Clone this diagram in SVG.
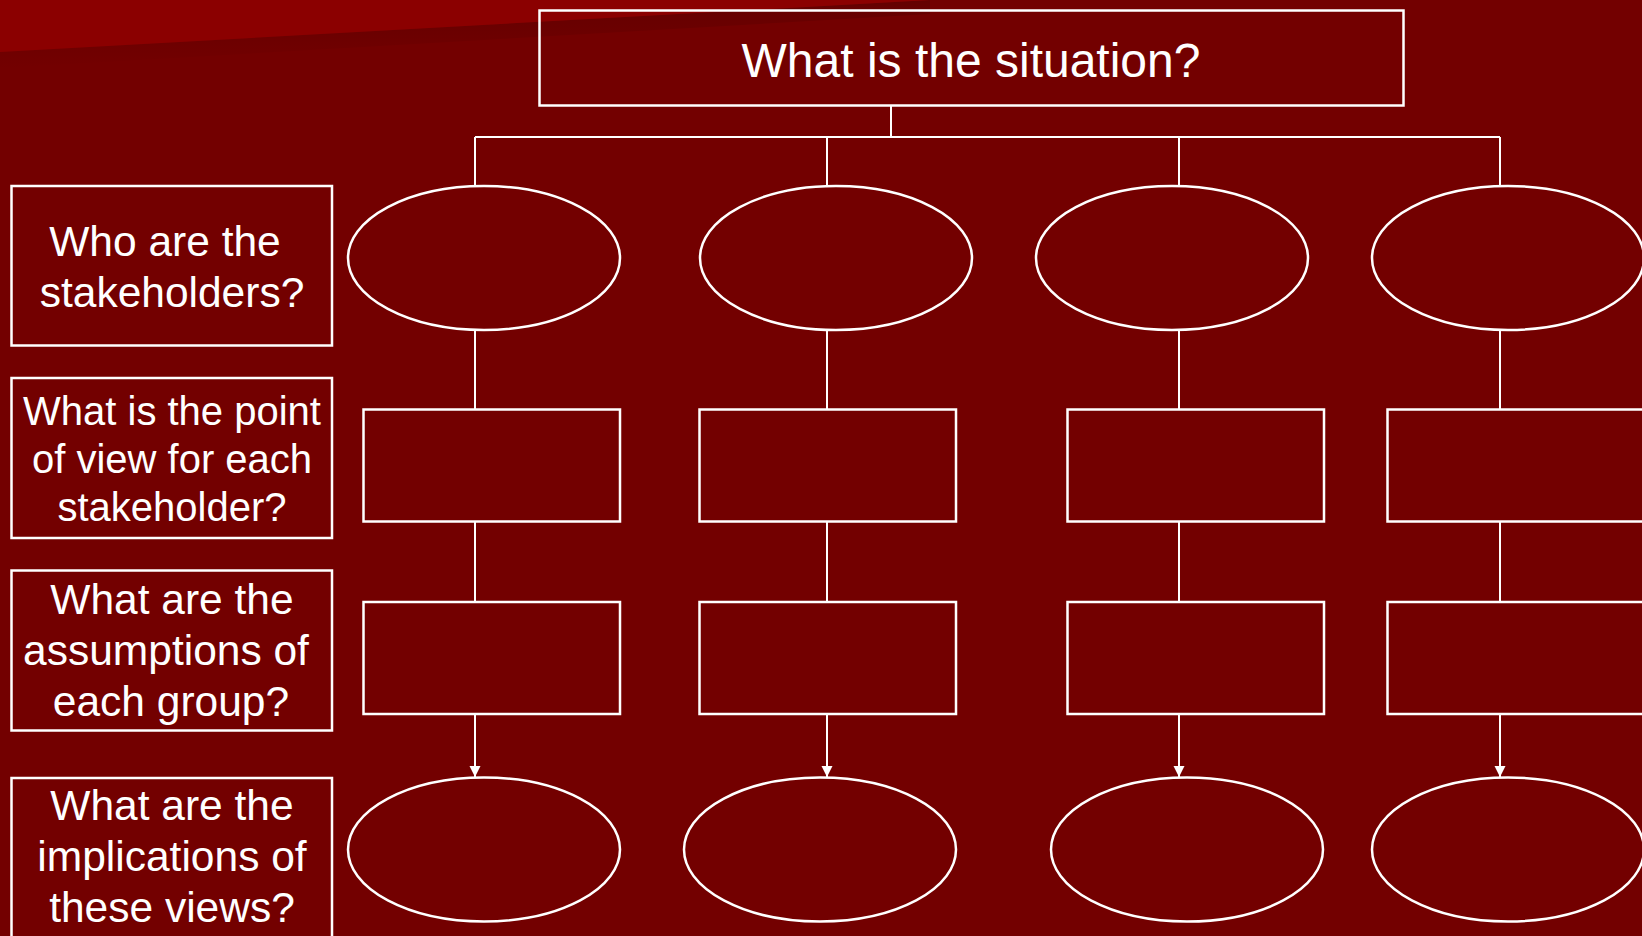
<svg xmlns="http://www.w3.org/2000/svg" width="1642" height="936" viewBox="0 0 1642 936">
<defs>
<style>
.shape{fill:none;stroke:#ffffff;stroke-width:2.5}
.conn{fill:none;stroke:#ffffff;stroke-width:2}
.lbl{font-family:"Liberation Sans",Arial,sans-serif;font-size:42.5px;fill:#ffffff;text-anchor:middle}
.lbl-sm{font-family:"Liberation Sans",Arial,sans-serif;font-size:40px;fill:#ffffff;text-anchor:middle}
.title{font-family:"Liberation Sans",Arial,sans-serif;font-size:48px;fill:#ffffff;text-anchor:middle}
</style>
<linearGradient id="shade" x1="0" y1="0" x2="0" y2="1">
<stop offset="0" stop-color="#640000"/>
<stop offset="1" stop-color="#730000"/>
</linearGradient>
<marker id="arr" markerUnits="userSpaceOnUse" markerWidth="12" markerHeight="12" viewBox="0 0 12 12" refX="11" refY="6" orient="auto">
<path d="M0,0.5 L11,6 L0,11.5 Z" fill="#ffffff"/>
</marker>
</defs>
<rect x="0" y="0" width="1642" height="936" fill="#730000"/>
<polygon points="0,52 930,0 930,14 0,68" fill="url(#shade)"/>
<polygon points="0,0 930,0 0,52" fill="#8b0000"/>

<g id="connectors">
<line class="conn" x1="891" y1="106" x2="891" y2="137"/>
<line class="conn" x1="475" y1="137" x2="1500" y2="137"/>
<line class="conn" x1="475" y1="137" x2="475" y2="186"/>
<line class="conn" x1="827" y1="137" x2="827" y2="186"/>
<line class="conn" x1="1179" y1="137" x2="1179" y2="186"/>
<line class="conn" x1="1500" y1="137" x2="1500" y2="186"/>
<line class="conn" x1="475" y1="330" x2="475" y2="409"/>
<line class="conn" x1="827" y1="330" x2="827" y2="409"/>
<line class="conn" x1="1179" y1="330" x2="1179" y2="409"/>
<line class="conn" x1="1500" y1="330" x2="1500" y2="409"/>
<line class="conn" x1="475" y1="522" x2="475" y2="602"/>
<line class="conn" x1="827" y1="522" x2="827" y2="602"/>
<line class="conn" x1="1179" y1="522" x2="1179" y2="602"/>
<line class="conn" x1="1500" y1="522" x2="1500" y2="602"/>
<line class="conn" x1="475" y1="714" x2="475" y2="777" marker-end="url(#arr)"/>
<line class="conn" x1="827" y1="714" x2="827" y2="777" marker-end="url(#arr)"/>
<line class="conn" x1="1179" y1="714" x2="1179" y2="777" marker-end="url(#arr)"/>
<line class="conn" x1="1500" y1="714" x2="1500" y2="777" marker-end="url(#arr)"/>
</g>

<g id="title">
<rect class="shape" x="539.5" y="10.5" width="864" height="95"/>
<text class="title" x="971" y="77">What is the situation?</text>
</g>

<g id="label-stakeholders">
<rect class="shape" x="11.5" y="186" width="320.5" height="159.5"/>
<text class="lbl" x="165" y="256">Who are the</text>
<text class="lbl" x="172" y="307">stakeholders?</text>
</g>
<g id="label-pointofview">
<rect class="shape" x="11.5" y="378" width="320.5" height="160"/>
<text class="lbl-sm" x="172" y="425">What is the point</text>
<text class="lbl-sm" x="172" y="473">of view for each</text>
<text class="lbl-sm" x="172" y="521">stakeholder?</text>
</g>
<g id="label-assumptions">
<rect class="shape" x="11.5" y="570.5" width="320.5" height="160"/>
<text class="lbl" x="172" y="614">What are the</text>
<text class="lbl" x="166" y="665">assumptions of</text>
<text class="lbl" x="171" y="716">each group?</text>
</g>
<g id="label-implications">
<rect class="shape" x="11.5" y="778" width="320.5" height="180"/>
<text class="lbl" x="172" y="820">What are the</text>
<text class="lbl" x="172" y="871">implications of</text>
<text class="lbl" x="172" y="922">these views?</text>
</g>

<g id="stakeholder-1"><ellipse class="shape" cx="484" cy="258" rx="136" ry="72"/></g>
<g id="stakeholder-2"><ellipse class="shape" cx="836" cy="258" rx="136" ry="72"/></g>
<g id="stakeholder-3"><ellipse class="shape" cx="1172" cy="258" rx="136" ry="72"/></g>
<g id="stakeholder-4"><ellipse class="shape" cx="1508" cy="258" rx="136" ry="72"/></g>

<g id="view-1"><rect class="shape" x="363.5" y="409.5" width="256.5" height="112"/></g>
<g id="view-2"><rect class="shape" x="699.5" y="409.5" width="256.5" height="112"/></g>
<g id="view-3"><rect class="shape" x="1067.5" y="409.5" width="256.5" height="112"/></g>
<g id="view-4"><rect class="shape" x="1387.5" y="409.5" width="256.5" height="112"/></g>

<g id="assumption-1"><rect class="shape" x="363.5" y="602" width="256.5" height="112"/></g>
<g id="assumption-2"><rect class="shape" x="699.5" y="602" width="256.5" height="112"/></g>
<g id="assumption-3"><rect class="shape" x="1067.5" y="602" width="256.5" height="112"/></g>
<g id="assumption-4"><rect class="shape" x="1387.5" y="602" width="256.5" height="112"/></g>

<g id="implication-1"><ellipse class="shape" cx="484" cy="849.5" rx="136" ry="72"/></g>
<g id="implication-2"><ellipse class="shape" cx="820" cy="849.5" rx="136" ry="72"/></g>
<g id="implication-3"><ellipse class="shape" cx="1187" cy="849.5" rx="136" ry="72"/></g>
<g id="implication-4"><ellipse class="shape" cx="1508" cy="849.5" rx="136" ry="72"/></g>
</svg>
